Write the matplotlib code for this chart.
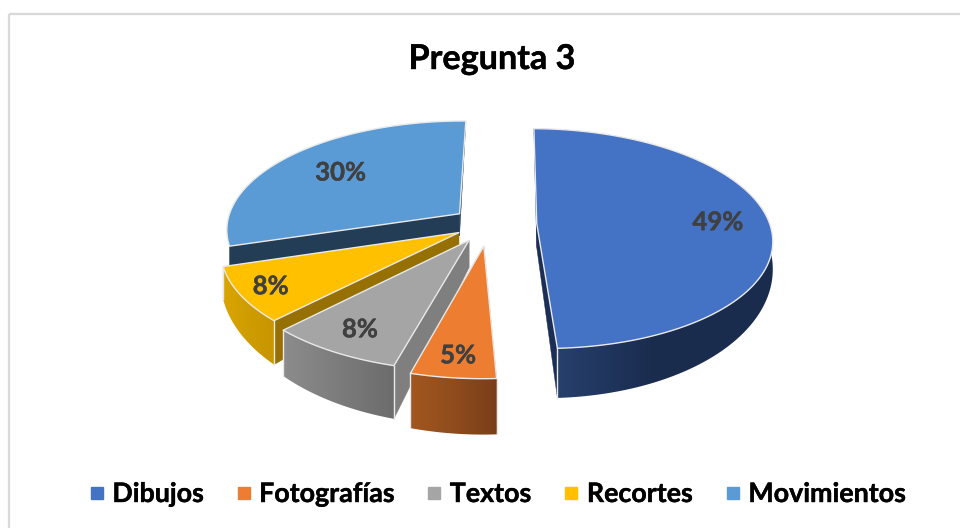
import numpy as np
import matplotlib
matplotlib.use("Agg")
import matplotlib.pyplot as plt
import matplotlib.patheffects as pe
from matplotlib.patches import Polygon, Rectangle
from matplotlib.lines import Line2D
from matplotlib.colors import to_rgb

categories = ["Dibujos", "Fotografías", "Textos", "Recortes", "Movimientos"]
values = [49, 5, 8, 8, 30]
title = "Pregunta 3"

top_colors = ["#4472C4", "#ED7D31", "#A5A5A5", "#FFC000", "#5B9BD5"]
wall_colors = ["#1B2F56", "#8A4A1C", "#7F7F7F", "#967000", "#223D55"]
side_grads = [("#2A4474", "#1A2C4E", "#1A2C4E"), ("#A35720", "#8F4C1D", "#7A3E18"),
              ("#8C8C8C", "#7C7C7C", "#6C6C6C"), ("#D9A500", "#CF9D00", "#C79600"),
              None]
# explosion of each slice in ground-plane units
explode = [0.205, 0.20, 0.17, 0.15, 0.16]
label_frac = [0.78, 0.85, 0.82, 0.87, 0.69]
START = 0.8
CX, CY = 489.0, 224.0
RX, RY, K = 233.0, 108.0, 0.136
RY2, DROP = 127.0, 24.0


def project(gx, gy, bottom=False):
    s = 1.0 / (1.0 - K * gy)
    sx = CX + RX * gx * s
    if bottom:
        sy = CY + (RY2 * gy + DROP) * s
    else:
        sy = CY + RY * gy * s
    return sx, sy


fig = plt.figure(figsize=(9.6, 5.28), dpi=100, facecolor="white")
ax = fig.add_axes([0, 0, 1, 1])
ax.axis("off")

ax.add_patch(Rectangle((8.5, 13.5), 960, 600, fill=False, ec="#D9D9D9", lw=1.6, zorder=0))

total = sum(values)
sweeps = [v / total * 360 for v in values]
starts = START + np.concatenate([[0], np.cumsum(sweeps)[:-1]])


def gradient(stops):
    cols = np.array([to_rgb(c) for c in stops])
    t = np.linspace(0, 1, 128)
    return np.stack([np.interp(t, [0, 0.5, 1], cols[:, c]) for c in range(3)], axis=-1)[None, :, :]


EDGE = "#E9E9E9"
order = [4, 3, 2, 1, 0]
z = 2
for i in order:
    a0, a1 = starts[i], starts[i] + sweeps[i]
    bis = (a0 + a1) / 2
    ex = explode[i]
    ox = ex * np.sin(np.radians(bis))
    oy = -ex * np.cos(np.radians(bis))
    th = np.linspace(a0, a1, 120)
    gx = np.sin(np.radians(th)) + ox
    gy = -np.cos(np.radians(th)) + oy
    tx, ty = project(gx, gy)
    bx, by = project(gx, gy, True)
    ax0, ay0 = project(ox, oy)
    bx0, by0 = project(ox, oy, True)
    # radial walls
    for k in (0, -1):
        ax.add_patch(Polygon([(ax0, ay0), (tx[k], ty[k]), (bx[k], by[k]), (bx0, by0)],
                             fc=wall_colors[i], ec=wall_colors[i], lw=0.3, zorder=z))
    z += 1
    # outer wall with horizontal gradient, clipped to the wall shape
    if side_grads[i] is not None:
        outline = list(zip(tx, ty)) + list(zip(bx[::-1], by[::-1]))
        clip = Polygon(outline, transform=ax.transData, fc="none", ec="none")
        ax.add_patch(clip)
        im = ax.imshow(gradient(side_grads[i]), extent=(tx.min(), tx.max(), by.max(), ty.min()),
                       aspect="auto", zorder=z, interpolation="bilinear")
        im.set_clip_path(clip)
    z += 1
    # top face
    pts = [(ax0, ay0)] + list(zip(tx, ty))
    ax.add_patch(Polygon(pts, fc=top_colors[i], ec=EDGE, lw=1.0, joinstyle="round", zorder=z))
    z += 1
    # front corner highlight
    for k in (0, -1):
        if gy[k] > 0.2 and side_grads[i] is not None:
            ax.add_line(Line2D([tx[k], bx[k]], [ty[k], by[k]], color=EDGE, lw=1.0, zorder=z))
    z += 1
    frac = label_frac[i]
    lx, ly = project(frac * np.sin(np.radians(bis)) + ox, -frac * np.cos(np.radians(bis)) + oy)
    ax.text(lx, ly, f"{values[i]}%", ha="center", va="center", color="#404040",
            fontsize=18.5, fontweight="bold", family="Lato", zorder=100,
            path_effects=[pe.withStroke(linewidth=0.3, foreground="#404040")])

ax.set_xlim(0, 960)
ax.set_ylim(528, 0)

stroke = [pe.withStroke(linewidth=0.3, foreground="black")]
ax.text(492, 59, title, ha="center", va="center", color="black", fontsize=24.6,
        fontweight="bold", family="Lato", path_effects=stroke)

handles = [Line2D([], [], ls="none", marker="s", ms=8, mfc=c, mec=c, label=n)
           for c, n in zip(top_colors, categories)]
leg = ax.legend(handles=handles, loc="center", bbox_to_anchor=(497 / 960, 1 - 494 / 528), ncols=5, frameon=False,
                prop={"family": "Lato", "weight": "bold", "size": 19.3}, handlelength=0.6,
                handletextpad=0.28, columnspacing=1.2, borderpad=0, labelcolor="black")
for t in leg.get_texts():
    t.set_path_effects(stroke)

fig.savefig("out.png", dpi=100)
